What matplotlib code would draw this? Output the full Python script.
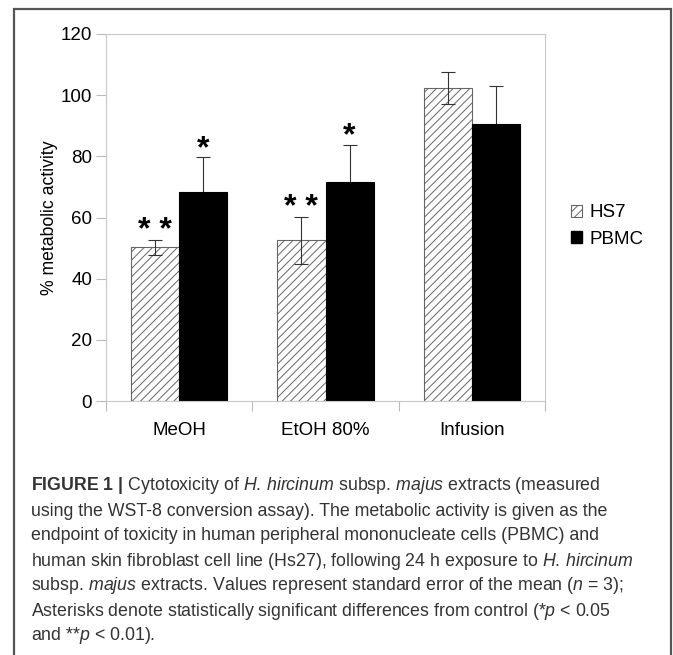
import numpy as np
import matplotlib
matplotlib.use('Agg')
import matplotlib.pyplot as plt
from matplotlib import font_manager as fm
from matplotlib.patches import Patch, Rectangle


def has_font(name):
    try:
        fm.findfont(fm.FontProperties(family=name), fallback_to_default=False)
        return True
    except ValueError:
        return False


# data
categories = ['MeOH', 'EtOH 80%', 'Infusion']
hs7 = [50.2, 52.5, 102.3]
hs7_err = [2.6, 7.7, 5.3]
pbmc = [68.2, 71.7, 90.6]
pbmc_err = [11.5, 12.0, 12.5]
stars_hs7 = ['**', '**', '']
stars_pbmc = ['*', '*', '']
yticks = [0, 20, 40, 60, 80, 100, 120]

caption_lines = [
    r'$\mathbf{FIGURE\ 1\ |}$ Cytotoxicity of $\mathit{H.\,hircinum}$ subsp. $\mathit{majus}$ extracts (measured',
    'using the WST-8 conversion assay). The metabolic activity is given as the',
    'endpoint of toxicity in human peripheral mononucleate cells (PBMC) and',
    r'human skin fibroblast cell line (Hs27), following 24 h exposure to $\mathit{H.\,hircinum}$',
    r'subsp. $\mathit{majus}$ extracts. Values represent standard error of the mean ($\mathit{n}$ = 3);',
    r'Asterisks denote statistically significant differences from control (*$\mathit{p}$ < 0.05',
    r'and **$\mathit{p}$ < 0.01).',
]

plot_font = 'Liberation Sans'
cap_font = 'Liberation Sans Narrow' if has_font('Liberation Sans Narrow') else 'Liberation Sans'
plt.rcParams['font.family'] = [plot_font, 'DejaVu Sans']
plt.rcParams['mathtext.fontset'] = 'custom'
plt.rcParams['mathtext.rm'] = cap_font
plt.rcParams['mathtext.it'] = cap_font + ':italic'
plt.rcParams['mathtext.bf'] = cap_font + ':bold'
plt.rcParams['hatch.color'] = '#555555'
plt.rcParams['hatch.linewidth'] = 0.7

W, H = 673, 655
fig = plt.figure(figsize=(W / 100, H / 100), dpi=100)

# outer frame of the figure panel
fig.patches.append(Rectangle((14 / W, -0.05), (671 - 14) / W, 1.05 - 9 / H,
                             transform=fig.transFigure, fill=False,
                             edgecolor='#555555', linewidth=1.6))

ax = fig.add_axes([106 / W, 1 - 401 / H, (545 - 106) / W, (401 - 34) / H])

x = np.arange(len(categories))
w = 0.33
ax.bar(x - w / 2, hs7, w, color='white', edgecolor='#666666', hatch='////',
       linewidth=0.8, label='HS7', zorder=2)
ax.bar(x + w / 2, pbmc, w, color='black', edgecolor='black', linewidth=0.8,
       label='PBMC', zorder=2)
ax.errorbar(x - w / 2, hs7, yerr=hs7_err, fmt='none', ecolor='#333333',
            elinewidth=0.8, capsize=5, capthick=0.8, zorder=3)
# drawn behind the black bars, so only the upper half shows
ax.errorbar(x + w / 2, pbmc, yerr=pbmc_err, fmt='none', ecolor='#333333',
            elinewidth=0.8, capsize=5, capthick=0.8, zorder=1)

for i in range(len(categories)):
    if stars_hs7[i]:
        ax.text(x[i] - w / 2, hs7[i] + hs7_err[i] - 2.0, ' '.join(stars_hs7[i]),
                ha='center', va='bottom', fontsize=23, fontweight='bold')
    if stars_pbmc[i]:
        ax.text(x[i] + w / 2, pbmc[i] + pbmc_err[i] - 2.2, stars_pbmc[i],
                ha='center', va='bottom', fontsize=23, fontweight='bold')

ax.set_xlim(-0.5, 2.5)
ax.set_ylim(0, 120)
ax.set_yticks(yticks)
ax.set_yticklabels([str(t) for t in yticks], fontsize=13.5)
ax.set_xticks(x)
ax.set_xticklabels(categories, fontsize=13.5)
ax.set_xticks([-0.5, 0.5, 1.5, 2.5], minor=True)
ax.tick_params(axis='x', which='major', length=0, pad=15)
ax.tick_params(axis='x', which='minor', length=7, color='#bbbbbb', width=0.8)
ax.tick_params(axis='y', length=7, color='#bbbbbb', width=0.8, pad=3)
for s in ax.spines.values():
    s.set_color('#c8c8c8')
    s.set_linewidth(0.8)
ax.set_ylabel('% metabolic activity', fontsize=12.7, labelpad=2)

handles = [Patch(facecolor='white', edgecolor='#666666', hatch='////', linewidth=0.8),
           Patch(facecolor='black', edgecolor='black')]
fig.legend(handles, ['HS7', 'PBMC'], loc='center left',
           bbox_to_anchor=(554 / W, 1 - 226 / H), frameon=False, fontsize=13.5,
           handlelength=0.6, handleheight=0.6, handletextpad=0.4,
           labelspacing=0.5)

# caption
y0 = 486
for k, line in enumerate(caption_lines):
    fig.text(31 / W, 1 - (y0 + 25 * k) / H, line, fontsize=12.8, family=cap_font,
             color='#333333', va='center', ha='left')

fig.savefig('out.png', dpi=100)
